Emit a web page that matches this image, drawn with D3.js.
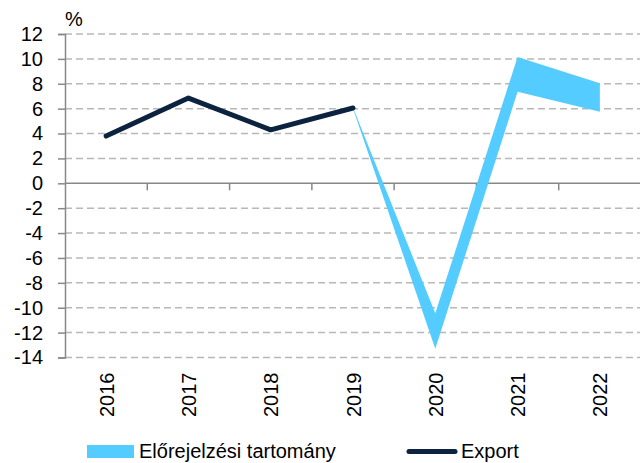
<!DOCTYPE html>
<html>
<head>
<meta charset="utf-8">
<script src="https://cdn.jsdelivr.net/npm/d3@7"></script>
<style>
  body { margin: 0; background: #fff; }
  text { font-family: "Liberation Sans", Arial, sans-serif; fill: #000; }
</style>
</head>
<body>
<div id="chart"></div>
<script>
var years = ["2016", "2017", "2018", "2019", "2020", "2021", "2022"];
var exportValues = [3.8, 6.85, 4.3, 6.05, null, null, null];
var bandLow = [null, null, null, 6.0, -13.3, 7.35, 5.75];
var bandHigh = [null, null, null, 6.1, -10.45, 10.15, 8.05];
var yTicks = [12, 10, 8, 6, 4, 2, 0, -2, -4, -6, -8, -10, -12, -14];

var w = 640, h = 463;
var margin = {top: 34, right: 0, bottom: 105, left: 65};
var width = w - margin.left - margin.right,
    height = h - margin.top - margin.bottom;

var svg = d3.select("#chart").append("svg")
    .attr("width", w)
    .attr("height", h);

var g = svg.append("g")
    .attr("transform", "translate(" + margin.left + "," + margin.top + ")");

var x = d3.scaleBand().domain(years).range([0, 576]);
var y = d3.scaleLinear().domain([-14, 12]).range([323.5, 0]);

// dashed grid
g.selectAll(".grid")
  .data(yTicks.filter(function(d) { return d !== 0; }))
  .enter().append("line")
    .attr("x1", 0).attr("x2", width)
    .attr("y1", function(d) { return y(d); })
    .attr("y2", function(d) { return y(d); })
    .attr("stroke", "#b8b8b8")
    .attr("stroke-width", 1.5)
    .attr("stroke-dasharray", "7,4");

// y axis
var yAxis = g.append("g")
    .call(d3.axisLeft(y).tickValues(yTicks).tickSize(7).tickPadding(15).tickFormat(d3.format("d")));
yAxis.select(".domain").attr("stroke", "#888").attr("stroke-width", 1.5);
yAxis.selectAll(".tick line").attr("stroke", "#888").attr("stroke-width", 1.5);
yAxis.selectAll("text").style("font-size", "20px").attr("fill", "#000")
    .text(function(d) { return d < 0 ? "-" + Math.abs(d) : d; });

// zero line with category ticks
var xAxis = g.append("g")
    .attr("transform", "translate(0," + y(0) + ")");
xAxis.append("line")
    .attr("x1", 0).attr("x2", width)
    .attr("stroke", "#888").attr("stroke-width", 1.5);
xAxis.selectAll(".xtick")
  .data(years.slice(1))
  .enter().append("line")
    .attr("x1", function(d) { return x(d); })
    .attr("x2", function(d) { return x(d); })
    .attr("y1", 0).attr("y2", 7)
    .attr("stroke", "#888").attr("stroke-width", 1.5);

// year labels, rotated
g.selectAll(".year")
  .data(years)
  .enter().append("text")
    .attr("transform", function(d) {
      return "translate(" + (x(d) + x.bandwidth() / 2 + 7.5) + "," + (y(-14) + 15) + ") rotate(-90)";
    })
    .attr("text-anchor", "end")
    .style("font-size", "20px")
    .text(function(d) { return d; });

// forecast band
var bandData = years.map(function(d, i) { return {year: d, lo: bandLow[i], hi: bandHigh[i]}; })
    .filter(function(d) { return d.lo !== null; });
var area = d3.area()
    .x(function(d) { return x(d.year) + x.bandwidth() / 2; })
    .y0(function(d) { return y(d.lo); })
    .y1(function(d) { return y(d.hi); });
g.append("path")
    .datum(bandData)
    .attr("fill", "#55ccff")
    .attr("d", area);

// export line
var lineData = years.map(function(d, i) { return {year: d, v: exportValues[i]}; })
    .filter(function(d) { return d.v !== null; });
var line = d3.line()
    .x(function(d) { return x(d.year) + x.bandwidth() / 2; })
    .y(function(d) { return y(d.v); });
g.append("path")
    .datum(lineData)
    .attr("fill", "none")
    .attr("stroke", "#0c2340")
    .attr("stroke-width", 5)
    .attr("stroke-linecap", "round")
    .attr("stroke-linejoin", "round")
    .attr("d", line);

// unit label
svg.append("text")
    .attr("x", 65).attr("y", 26)
    .style("font-size", "20px")
    .text("%");

// legend
var legend = svg.append("g");
legend.append("rect")
    .attr("x", 87).attr("y", 445).attr("width", 47).attr("height", 13)
    .attr("fill", "#55ccff");
legend.append("text")
    .attr("x", 139).attr("y", 458)
    .style("font-size", "20px")
    .text("Előrejelzési tartomány");
legend.append("line")
    .attr("x1", 409).attr("x2", 455).attr("y1", 451.5).attr("y2", 451.5)
    .attr("stroke", "#0c2340").attr("stroke-width", 5)
    .attr("stroke-linecap", "round");
legend.append("text")
    .attr("x", 461).attr("y", 458)
    .style("font-size", "20px")
    .text("Export");
</script>
</body>
</html>
